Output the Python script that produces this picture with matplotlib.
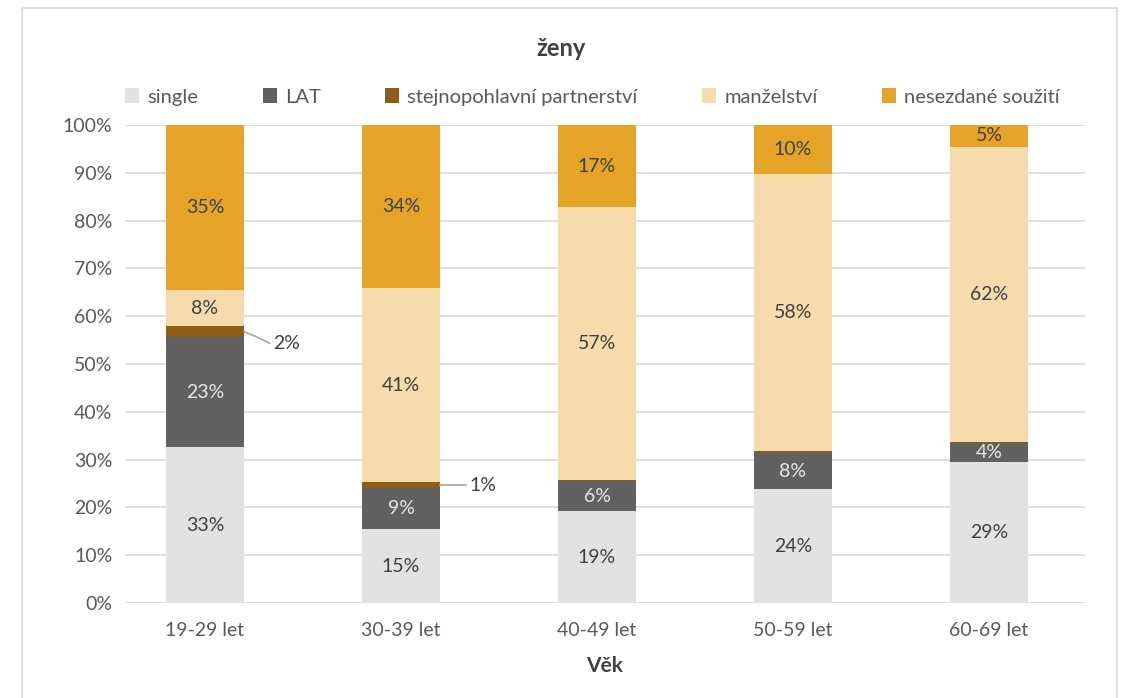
import numpy as np
import matplotlib.pyplot as plt

plt.rcParams['font.family'] = ['Lato', 'DejaVu Sans']

# data (podíly v %)
vek = ['19-29 let', '30-39 let', '40-49 let', '50-59 let', '60-69 let']
kategorie = ['single', 'LAT', 'stejnopohlavní partnerství', 'manželství', 'nesezdané soužití']
single = [32.6, 15.4, 19.2, 23.8, 29.4]
lat = [23.0, 8.6, 6.3, 7.6, 4.0]
stejno = [2.3, 1.3, 0.3, 0.3, 0.2]
manzelstvi = [7.5, 40.6, 57.0, 58.0, 61.8]
nesezdane = [34.6, 34.1, 17.2, 10.3, 4.6]
barvy = ['#E2E2E2', '#616161', '#8C5E17', '#F6DCAD', '#E5A327']
popisky_barva = ['#404040', '#E6E6E6', '#404040', '#404040', '#404040']

serie = [single, lat, stejno, manzelstvi, nesezdane]

fig = plt.figure(figsize=(11.22, 6.98), dpi=100)
ax = fig.add_axes([125 / 1122, 1 - 603 / 698, (1085 - 125) / 1122, (603 - 125) / 698])

x = np.arange(len(vek))
spodek = np.zeros(len(vek))
for i, (hodnoty, barva) in enumerate(zip(serie, barvy)):
    hodnoty = np.array(hodnoty)
    ax.bar(x, hodnoty, 0.4, bottom=spodek, color=barva, label=kategorie[i], zorder=2)
    for j, h in enumerate(hodnoty):
        if i == 2:
            # malé hodnoty s odkazovou čarou
            if h >= 1:
                y = spodek[j] + h / 2
                ax.plot([x[j] + 0.2, x[j] + 0.26, x[j] + 0.33], [y, y - (1.0 if j == 0 else 0), y - (2.4 if j == 0 else 0)],
                        color='#A6A6A6', lw=1.2, zorder=3, clip_on=False)
                ax.text(x[j] + 0.35, y - (2.4 if j == 0 else 0), f'{h:.0f}%', va='center', ha='left',
                        fontsize=14, color='#404040')
            continue
        ax.text(x[j], spodek[j] + h / 2, f'{round(h):.0f}%', ha='center', va='center',
                fontsize=14, color=popisky_barva[i], zorder=4)
    spodek += hodnoty

ax.set_xlim(-0.408, 4.49)
ax.set_ylim(0, 100)
ax.set_yticks(np.arange(0, 101, 10))
ax.set_yticklabels([f'{v}%' for v in range(0, 101, 10)])
ax.set_xticks(x)
ax.set_xticklabels(vek)
ax.yaxis.grid(True, color='#D9D9D9', lw=1.2, zorder=0)
ax.tick_params(length=0, labelsize=14, colors='#595959', pad=9)
ax.tick_params(axis='x', pad=14)
for s in ax.spines.values():
    s.set_visible(False)
ax.set_xlabel('Věk', fontsize=15, fontweight='bold', color='#404040', labelpad=12)

fig.text(0.5, 1 - 48 / 698, 'ženy', ha='center', va='center', fontsize=17, fontweight='bold', color='#404040')
ax.legend(loc='center', bbox_to_anchor=(0.487, 1 + (125 - 97) / 478), ncol=5, frameon=False,
          fontsize=14.5, handlelength=0.7, handleheight=0.7, handletextpad=0.4, columnspacing=3.2,
          labelcolor='#595959')

# rámeček grafu
fig.patches.append(plt.Rectangle((22 / 1122, -0.01), (1117 - 22) / 1122, 1 - 8 / 698 + 0.01,
                                 transform=fig.transFigure, fill=False, edgecolor='#D9D9D9', lw=1.2))

fig.savefig('out.png', dpi=100)
